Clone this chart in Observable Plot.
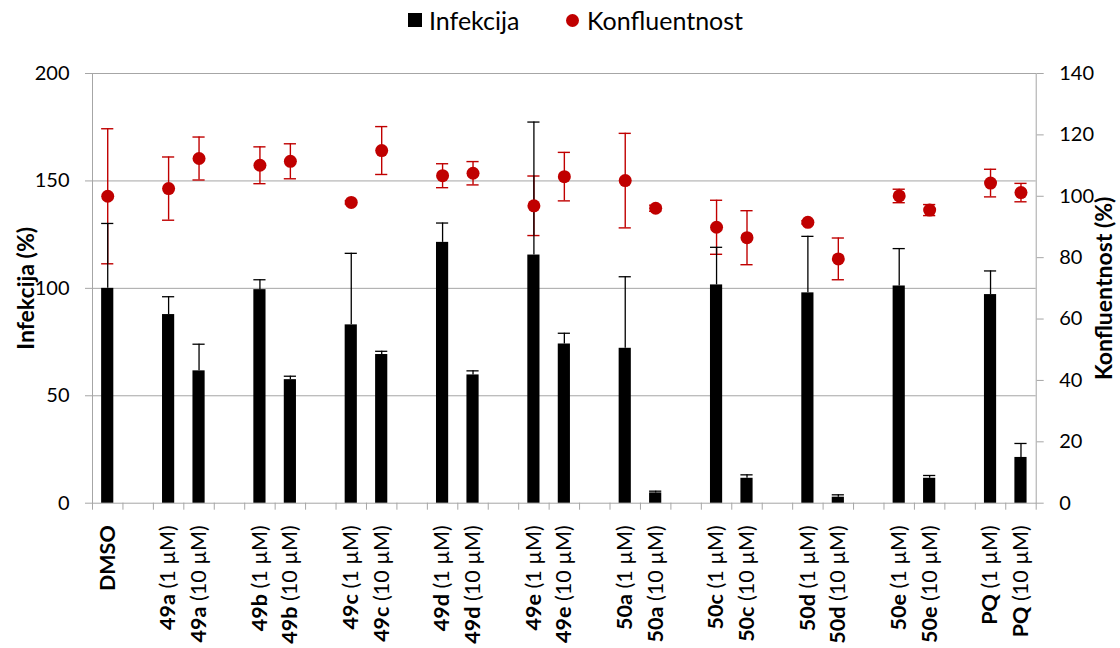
<!DOCTYPE html>
<html><head><meta charset="utf-8">
<script src="https://cdn.jsdelivr.net/npm/d3@7"></script>
<script src="https://cdn.jsdelivr.net/npm/@observablehq/plot@0.6"></script>
<style>
body{margin:0;background:#fff;font-family:Lato, sans-serif;}
#wrap{position:relative;width:1120px;height:648px;overflow:hidden;}
#legend{position:relative;height:40px;}
.item{position:absolute;top:6px;font-size:25px;line-height:28px;display:flex;align-items:center;color:#000;}
.sq{width:14px;height:14px;background:#000;margin-right:7px;}
.ci{width:13px;height:13px;border-radius:50%;background:#C00000;margin-right:8px;}
svg [aria-label="y-axis label"] text{font-weight:bold;font-size:23px;}
</style></head>
<body><div id="wrap">
<div id="legend">
  <div class="item" style="left:408px"><div class="sq"></div>Infekcija</div>
  <div class="item" style="left:566px"><div class="ci"></div>Konfluentnost</div>
</div>
<div id="chart"></div>
</div>
<script>
const labels = ["DMSO","49a (1 µM)","49a (10 µM)","49b (1 µM)","49b (10 µM)","49c (1 µM)","49c (10 µM)","49d (1 µM)","49d (10 µM)","49e (1 µM)","49e (10 µM)","50a (1 µM)","50a (10 µM)","50c (1 µM)","50c (10 µM)","50d (1 µM)","50d (10 µM)","50e (1 µM)","50e (10 µM)","PQ (1 µM)","PQ (10 µM)"];
const infekcija = [100, 87.8, 61.6, 99.4, 57.5, 83.0, 69.2, 121.4, 59.7, 115.5, 74.1, 72.1, 4.8, 101.6, 11.6, 97.9, 2.8, 101.1, 11.6, 97.1, 21.3];
const infekcijaErr = [30.2, 8.3, 12.4, 4.6, 1.6, 33.3, 1.5, 9.0, 1.9, 61.9, 5.0, 33.3, 0.8, 17.5, 1.6, 26.3, 1.1, 17.4, 1.3, 11.0, 6.5];
const konfluentnost = [100.0, 102.5, 112.3, 110.1, 111.4, 98.0, 114.9, 106.7, 107.5, 96.9, 106.4, 105.1, 96.1, 89.9, 86.5, 91.5, 79.6, 100.1, 95.5, 104.3, 101.2];
const konfluentnostErr = [22.0, 10.3, 7.0, 6.0, 5.7, 0.5, 7.8, 3.9, 3.8, 9.7, 7.9, 15.4, 1.0, 8.8, 8.8, 0.5, 6.8, 2.2, 1.8, 4.5, 3.0];
const leftTicks = [0, 50, 100, 150, 200];
const rightTicks = [0, 20, 40, 60, 80, 100, 120, 140];

const k = 200 / 140;
const domain = [];
labels.forEach((l, i) => { domain.push(l); if (i === 0 || (i % 2 === 0 && i < labels.length - 1)) domain.push("gap" + i); });

const rows = labels.map((l, i) => ({
  cat: l,
  inf: infekcija[i],
  infHi: infekcija[i] + infekcijaErr[i],
  konf: konfluentnost[i] * k,
  konfLo: (konfluentnost[i] - konfluentnostErr[i]) * k,
  konfHi: (konfluentnost[i] + konfluentnostErr[i]) * k
}));

const W = 1120, H = 608, mL = 92, mR = 84.3, mT = 33, mB = 145.3;
const step = (W - mL - mR) / domain.length;
const grey = "#a6a6a6", red = "#C00000";

const svg = Plot.plot({
  width: W, height: H,
  marginLeft: mL, marginRight: mR, marginTop: mT, marginBottom: mB,
  style: {fontFamily: "Lato, sans-serif", fontSize: "20px", background: "#fff", color: "#000"},
  x: {domain, paddingInner: 0.6, paddingOuter: 0.3, round: false},
  y: {domain: [0, 200]},
  marks: [
    Plot.gridY([50, 100, 150, 200], {stroke: grey, strokeOpacity: 1}),
    Plot.frame({stroke: grey}),
    Plot.barY(rows, {x: "cat", y: "inf", fill: "#000"}),
    Plot.ruleX(rows, {x: "cat", y1: "konfLo", y2: "konfHi", stroke: red, strokeWidth: 1.4}),
    Plot.tickY(rows, {x: "cat", y: "konfLo", stroke: red, strokeWidth: 1.4}),
    Plot.tickY(rows, {x: "cat", y: "konfHi", stroke: red, strokeWidth: 1.4}),
    Plot.ruleX(rows, {x: "cat", y1: "inf", y2: "infHi", stroke: "#000", strokeWidth: 1.3}),
    Plot.tickY(rows, {x: "cat", y: "infHi", stroke: "#000", strokeWidth: 1.3}),
    Plot.dot(rows, {x: "cat", y: "konf", r: 6.5, fill: red}),
    Plot.axisY(leftTicks, {anchor: "left", tickSize: 7, tickPadding: 16, stroke: grey,
      label: "Infekcija (%)", labelAnchor: "center", labelArrow: "none", labelOffset: 75}),
    Plot.axisY(rightTicks.map(v => v * k), {anchor: "right", tickSize: 7, tickPadding: 16, stroke: grey,
      tickFormat: v => String(Math.round(v / k)),
      label: "Konfluentnost (%)", labelAnchor: "center", labelArrow: "none", labelOffset: 76}),
    Plot.axisX(domain, {tickSize: 7, dx: step / 2, tickFormat: () => "", stroke: grey, label: null}),
    Plot.axisX([domain[0]], {tickSize: 7, dx: -step / 2, tickFormat: () => "", stroke: grey, label: null}),
    Plot.axisX(domain, {tickSize: 0, tickPadding: 22, tickRotate: -90, fontWeight: "bold", fontSize: 21.5,
      tickFormat: d => d.startsWith("gap") ? "" : d, label: null})
  ]
});

d3.select(svg).selectAll('g[aria-label="x-axis tick label"] text').each(function() {
  const t = this.textContent;
  if (!t) return;
  const idx = t.indexOf(" (");
  if (idx < 0) return;
  const sel = d3.select(this);
  sel.text(null).attr("font-weight", null);
  sel.append("tspan").attr("font-weight", "bold").text(t.slice(0, idx));
  sel.append("tspan").attr("font-weight", "normal").text(t.slice(idx));
});

document.getElementById("chart").appendChild(svg);
</script>
</body></html>
